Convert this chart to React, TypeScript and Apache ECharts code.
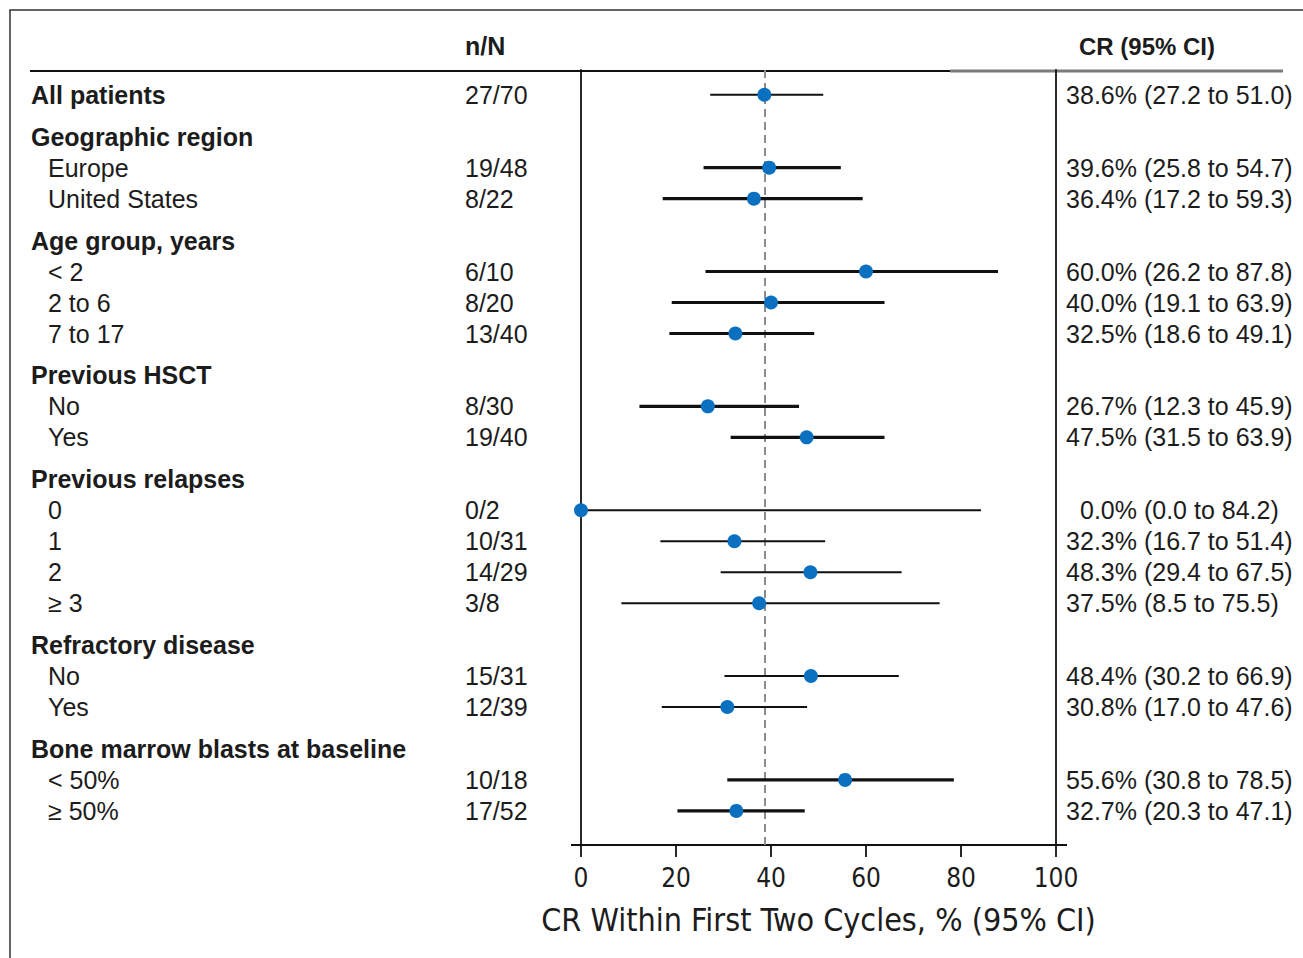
import React, { useEffect, useRef } from "react";
import * as echarts from "echarts";

// ---------- data ----------
const rowLabels = [
  "All patients",
  "Geographic region",
  "Europe",
  "United States",
  "Age group, years",
  "< 2",
  "2 to 6",
  "7 to 17",
  "Previous HSCT",
  "No",
  "Yes",
  "Previous relapses",
  "0",
  "1",
  "2",
  "≥ 3",
  "Refractory disease",
  "No",
  "Yes",
  "Bone marrow blasts at baseline",
  "< 50%",
  "≥ 50%",
];
const rowKinds = [
  "total", "group", "item", "item", "group", "item", "item", "item", "group", "item", "item",
  "group", "item", "item", "item", "item", "group", "item", "item", "group", "item", "item",
];
const nOverN = [
  "27/70", "", "19/48", "8/22", "", "6/10", "8/20", "13/40", "", "8/30", "19/40",
  "", "0/2", "10/31", "14/29", "3/8", "", "15/31", "12/39", "", "10/18", "17/52",
];
const estimates: (number | null)[] = [
  38.6, null, 39.6, 36.4, null, 60.0, 40.0, 32.5, null, 26.7, 47.5,
  null, 0.0, 32.3, 48.3, 37.5, null, 48.4, 30.8, null, 55.6, 32.7,
];
const lowerCI: (number | null)[] = [
  27.2, null, 25.8, 17.2, null, 26.2, 19.1, 18.6, null, 12.3, 31.5,
  null, 0.0, 16.7, 29.4, 8.5, null, 30.2, 17.0, null, 30.8, 20.3,
];
const upperCI: (number | null)[] = [
  51.0, null, 54.7, 59.3, null, 87.8, 63.9, 49.1, null, 45.9, 63.9,
  null, 84.2, 51.4, 67.5, 75.5, null, 66.9, 47.6, null, 78.5, 47.1,
];
const xTicks = [0, 20, 40, 60, 80, 100];
const overallRate = 38.6;
const colHeaderN = "n/N";
const colHeaderCR = "CR (95% CI)";
const xTitle = "CR Within First Two Cycles, % (95% CI)";

// ---------- styles / layout ----------
const FONT = "'Liberation Sans', Arial, Helvetica, sans-serif";
const NARROW = "'DejaVu Sans Condensed', 'Liberation Sans Narrow', sans-serif";
const TEXT = "#1c1c1c";
const BLUE = "#0b70c0";
const W = 1303;
const H = 958;
const GRID_LEFT = 581;
const GRID_W = 475;
const GRID_TOP = 70;
const GRID_H = 775;
const thickGroups = new Set([
  "Geographic region",
  "Age group, years",
  "Previous HSCT",
  "Bone marrow blasts at baseline",
]);

function buildOption() {
  // row positions: one unit per row, extra gap before each group header
  let g = 0;
  let currentGroup = "";
  const pos: number[] = [];
  const groupOf: string[] = [];
  rowKinds.forEach((k, i) => {
    if (k === "group") {
      g++;
      currentGroup = rowLabels[i];
    }
    if (k === "total") currentGroup = rowLabels[i];
    pos.push(i + 0.35 * g);
    groupOf.push(currentGroup);
  });

  const ciData: number[][] = [];
  const ptData: number[][] = [];
  estimates.forEach((e, i) => {
    if (e === null) return;
    ciData.push([lowerCI[i] as number, upperCI[i] as number, pos[i], thickGroups.has(groupOf[i]) ? 3.2 : 2]);
    ptData.push([e, pos[i]]);
  });
  const textData = rowLabels.map((_, i) => [i, pos[i]]);

  const yAxisBase = {
    type: "value",
    inverse: true,
    min: -0.8,
    max: 24.2,
    axisLine: { show: true, onZero: false, lineStyle: { color: "#111", width: 1.8 } },
    axisTick: { show: false },
    axisLabel: { show: false },
    splitLine: { show: false },
  };

  const estX = 1137;

  return {
    animation: false,
    backgroundColor: "#ffffff",
    grid: { left: GRID_LEFT, top: GRID_TOP, width: GRID_W, height: GRID_H, containLabel: false },
    xAxis: {
      type: "value",
      min: 0,
      max: 100,
      interval: 20,
      axisLine: { show: false, onZero: false },
      axisTick: { show: true, length: 12, lineStyle: { color: "#111", width: 1.8 } },
      axisLabel: {
        margin: 20,
        color: TEXT,
        fontSize: 26,
        fontFamily: NARROW,
        formatter: (v: number) => (xTicks.includes(v) ? String(v) : ""),
      },
      splitLine: { show: false },
      name: xTitle,
      nameLocation: "middle",
      nameGap: 59,
      nameTextStyle: { fontSize: 32, fontFamily: NARROW, color: TEXT },
    },
    yAxis: [yAxisBase, { ...yAxisBase, position: "right" }],
    graphic: [
      {
        type: "rect",
        shape: { x: 10, y: 10, width: 1320, height: 980 },
        style: { fill: "none", stroke: "#333", lineWidth: 1.5 },
        silent: true,
      },
      {
        type: "line",
        shape: { x1: 30, y1: 71, x2: 950, y2: 71 },
        style: { stroke: "#111", lineWidth: 2 },
      },
      {
        type: "line",
        shape: { x1: 950, y1: 71, x2: 1283, y2: 71 },
        style: { stroke: "#7a7a7a", lineWidth: 3 },
      },
      {
        type: "line",
        shape: { x1: GRID_LEFT - 10, y1: GRID_TOP + GRID_H, x2: GRID_LEFT + GRID_W + 11, y2: GRID_TOP + GRID_H },
        style: { stroke: "#111", lineWidth: 1.8 },
      },
      {
        type: "text",
        x: 465,
        y: 46,
        style: { text: colHeaderN, fontSize: 25, fontWeight: "bold", fontFamily: FONT, fill: TEXT, verticalAlign: "middle" },
      },
      {
        type: "text",
        x: 1079,
        y: 46,
        style: { text: colHeaderCR, fontSize: 24, fontWeight: "bold", fontFamily: FONT, fill: TEXT, verticalAlign: "middle" },
      },
    ],
    series: [
      {
        type: "custom",
        name: "rows",
        coordinateSystem: "cartesian2d",
        clip: false,
        silent: true,
        encode: { x: 0, y: 1 },
        data: textData,
        renderItem: (params: any, api: any) => {
          const i = api.value(0);
          const y = api.coord([0, api.value(1)])[1];
          const kind = rowKinds[i];
          const children: any[] = [
            {
              type: "text",
              x: kind === "item" ? 48 : 31,
              y,
              style: {
                text: rowLabels[i],
                fontSize: 25,
                fontWeight: kind === "item" ? "normal" : "bold",
                fontFamily: FONT,
                fill: TEXT,
                verticalAlign: "middle",
              },
            },
          ];
          if (nOverN[i]) {
            children.push({
              type: "text",
              x: 465,
              y,
              style: { text: nOverN[i], fontSize: 25, fontFamily: FONT, fill: TEXT, verticalAlign: "middle" },
            });
          }
          const e = estimates[i];
          if (e !== null) {
            children.push({
              type: "text",
              x: estX,
              y,
              style: { text: e.toFixed(1) + "%", fontSize: 25, fontFamily: FONT, fill: TEXT, verticalAlign: "middle", align: "right" },
            });
            children.push({
              type: "text",
              x: estX,
              y,
              style: {
                text: " (" + (lowerCI[i] as number).toFixed(1) + " to " + (upperCI[i] as number).toFixed(1) + ")",
                fontSize: 25,
                fontFamily: FONT,
                fill: TEXT,
                verticalAlign: "middle",
                align: "left",
              },
            });
          }
          return { type: "group", children };
        },
        z: 5,
      },
      {
        type: "custom",
        name: "ci",
        coordinateSystem: "cartesian2d",
        clip: false,
        silent: true,
        encode: { x: [0, 1], y: 2 },
        data: ciData,
        renderItem: (params: any, api: any) => {
          const a = api.coord([api.value(0), api.value(2)]);
          const b = api.coord([api.value(1), api.value(2)]);
          return {
            type: "line",
            shape: { x1: a[0], y1: a[1], x2: b[0], y2: b[1] },
            style: { stroke: "#111", lineWidth: api.value(3) },
          };
        },
        z: 3,
      },
      {
        type: "scatter",
        name: "CR",
        clip: false,
        silent: true,
        symbol: "circle",
        symbolSize: 14,
        itemStyle: { color: BLUE, opacity: 1 },
        data: ptData,
        z: 6,
        markLine: {
          silent: true,
          symbol: "none",
          label: { show: false },
          lineStyle: { type: [8, 5], color: "#8c8c8c", width: 2 },
          data: [{ xAxis: overallRate }],
          z: 1,
        },
      },
    ],
  };
}

export default function App() {
  const ref = useRef<HTMLDivElement>(null);
  useEffect(() => {
    if (!ref.current) return;
    const chart = echarts.init(ref.current, undefined, { renderer: "svg" });
    chart.setOption(buildOption() as any);
    return () => chart.dispose();
  }, []);
  return (
    <div
      ref={ref}
      style={{ position: "absolute", left: 0, top: 0, width: W, height: H, background: "#fff" }}
    />
  );
}
